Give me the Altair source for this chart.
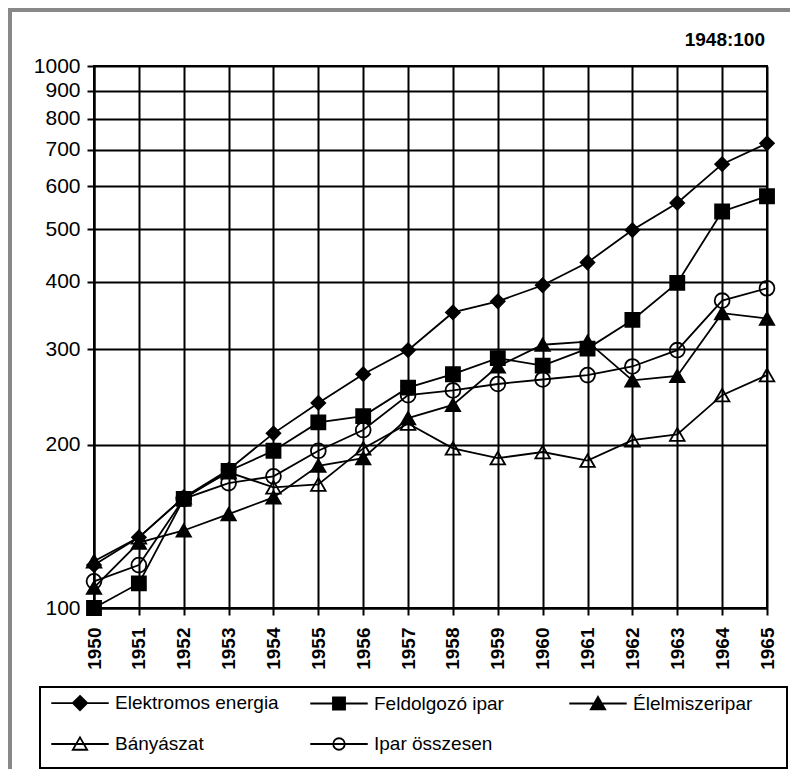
import altair as alt
import pandas as pd

years = list(range(1950, 1966))
series_names = ["Elektromos energia", "Feldolgozó ipar", "Élelmiszeripar", "Bányászat", "Ipar összesen"]

elektromos = [120, 135, 160, 180, 210, 239, 270, 299, 351, 368, 394, 434, 498, 559, 659, 720]
feldolgozo = [100, 111, 159, 179, 195, 220, 226, 255, 270, 289, 280, 301, 340, 398, 539, 575]
elelmiszer = [109, 132, 139, 149, 160, 183, 189, 224, 237, 279, 306, 310, 263, 268, 350, 342]
banyaszat = [122, 135, 160, 178, 167, 169, 197, 219, 197, 189, 194, 187, 204, 209, 247, 269]
ipar_osszesen = [112, 120, 159, 170, 175, 195, 213, 247, 252, 259, 264, 269, 279, 299, 369, 389]

y_ticks = [100, 200, 300, 400, 500, 600, 700, 800, 900, 1000]
base_note = "1948:100"

point_shapes = ["diamond", "square", "triangle-up", "triangle-up", "circle"]
point_sizes = [190, 220, 190, 190, 180]
point_fills = ["black", "black", "black", "transparent", "transparent"]
legend_strokes = ["black", "black", "black", "black", "black"]
legend_shapes = [
    "M-1,0H1M0,-0.25L0.25,0L0,0.25L-0.25,0Z",
    "M-1,0H1M-0.21,-0.21H0.21V0.21H-0.21Z",
    "M-1,0H1M0,-0.23L0.25,0.2H-0.25Z",
    "M-1,0H1M0,-0.23L0.25,0.2H-0.25Z",
    "M-1,0H1M0.2,0A0.2,0.2,0,1,1,-0.2,0A0.2,0.2,0,1,1,0.2,0Z",
]

rows = []
for name, vals in zip(series_names, [elektromos, feldolgozo, elelmiszer, banyaszat, ipar_osszesen]):
    for yr, v in zip(years, vals):
        rows.append({"year": yr, "series": name, "value": v})
df = pd.DataFrame(rows)

FONT = "Liberation Sans"

x_enc = alt.X(
    "year:Q",
    scale=alt.Scale(domain=[1950, 1965], nice=False, zero=False),
    axis=alt.Axis(
        values=years, format="d", labelAngle=-90, labelAlign="right", labelBaseline="middle",
        labelFont=FONT, labelFontSize=19, labelFontWeight="bold", labelColor="black",
        tickSize=7, tickColor="black", tickWidth=2, domainColor="black", domainWidth=2,
        gridColor="black", gridWidth=2, gridOpacity=1, labelPadding=12, title=None,
    ),
)
y_enc = alt.Y(
    "value:Q",
    scale=alt.Scale(type="log", domain=[100, 1000], nice=False),
    axis=alt.Axis(
        values=y_ticks, format="d", labelFont=FONT, labelFontSize=21, labelColor="black",
        tickSize=7, tickColor="black", tickWidth=2, domainColor="black", domainWidth=2,
        gridColor="black", gridWidth=2, gridOpacity=1, labelPadding=7, title=None,
    ),
)

base = alt.Chart(df)

lines = base.mark_line(color="black", strokeWidth=1.8).encode(x=x_enc, y=y_enc, detail="series:N")

points = base.mark_point(filled=True, stroke="black", strokeWidth=1.8, opacity=1).encode(
    x=x_enc,
    y=y_enc,
    shape=alt.Shape("series:N", scale=alt.Scale(domain=series_names, range=point_shapes), legend=None),
    fill=alt.Fill("series:N", scale=alt.Scale(domain=series_names, range=point_fills), legend=None),
    size=alt.Size("series:N", scale=alt.Scale(domain=series_names, range=point_sizes), legend=None),
)

leg = dict(
    orient="none", legendX=-44, legendY=607, columns=3, gridAlign="all", title=None,
    labelFont=FONT, labelFontSize=19, labelColor="black", labelLimit=400, labelOffset=5,
    symbolSize=3300, symbolStrokeWidth=1.8, symbolOpacity=1,
    columnPadding=27, rowPadding=-2, direction="horizontal",
)

legend_layer = base.transform_filter("false").mark_point(filled=True, stroke="black", strokeWidth=1.8, opacity=1).encode(
    x=x_enc,
    y=y_enc,
    shape=alt.Shape("series:N", scale=alt.Scale(domain=series_names, range=legend_shapes), legend=alt.Legend(**leg)),
    fill=alt.Fill("series:N", scale=alt.Scale(domain=series_names, range=point_fills), legend=alt.Legend(**leg)),
    stroke=alt.Stroke("series:N", scale=alt.Scale(domain=series_names, range=legend_strokes), legend=alt.Legend(**leg)),
)

one = alt.Chart(pd.DataFrame({"a": [0]}))

frame_left = one.mark_rule(color="#888888", strokeWidth=4).encode(
    x=alt.value(-84), y=alt.value(-58), y2=alt.value(703)
)
frame_top = one.mark_rule(color="#888888", strokeWidth=4).encode(
    y=alt.value(-56), x=alt.value(-86), x2=alt.value(696)
)
legend_box = one.mark_rect(fill="transparent", stroke="black", strokeWidth=2).encode(
    x=alt.value(-54), x2=alt.value(693), y=alt.value(621), y2=alt.value(702)
)
note = one.mark_text(align="right", baseline="middle", font=FONT, fontSize=19, fontWeight="bold", color="black").encode(
    x=alt.value(671), y=alt.value(-26), text=alt.value(base_note)
)

chart = alt.layer(lines, points, legend_layer, frame_left, frame_top, legend_box, note).resolve_scale(
    shape="independent", fill="independent", stroke="independent", size="independent"
).properties(
    width=673, height=542,
    padding={"left": 86, "top": 58, "right": 23, "bottom": 161},
    autosize="none",
    background="white",
).configure_view(stroke="black", strokeWidth=2)

chart.save("out.html", embed_options={"renderer": "svg", "actions": False})
